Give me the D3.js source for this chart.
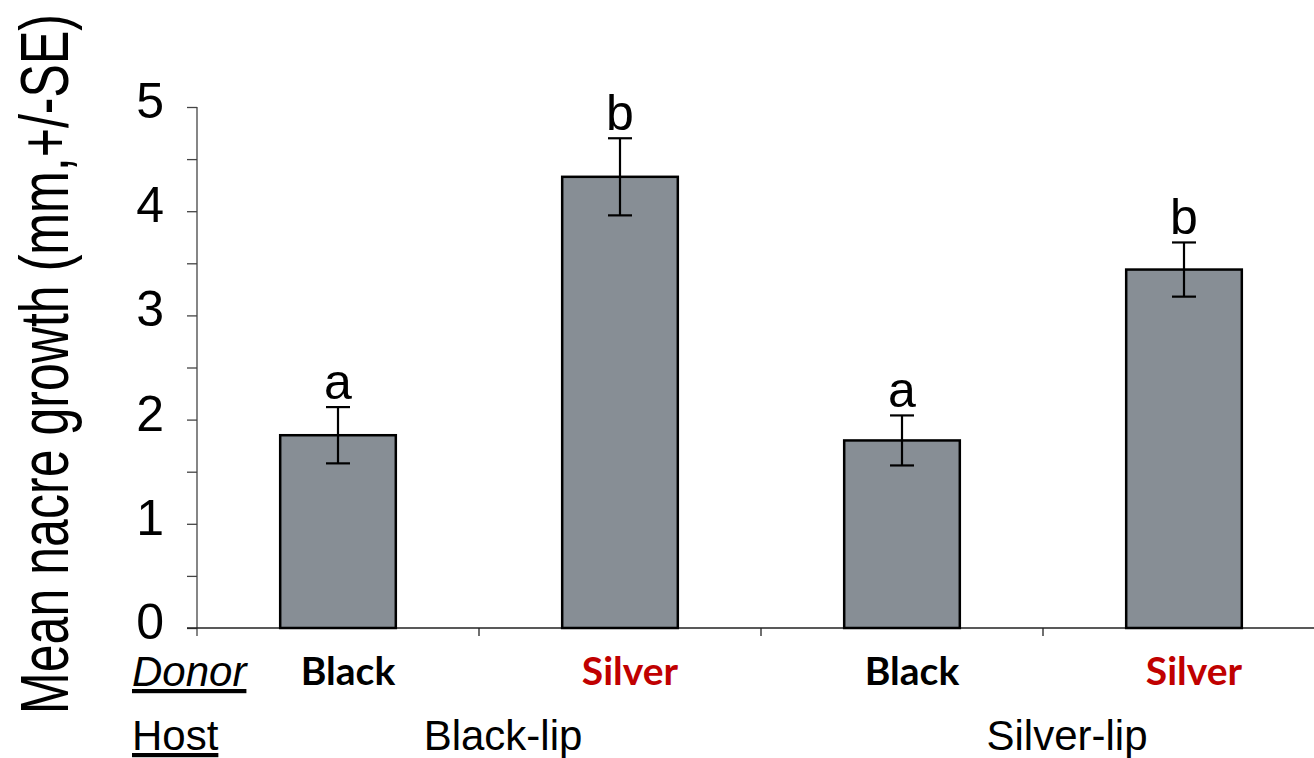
<!DOCTYPE html>
<html>
<head>
<meta charset="utf-8">
<script src="https://cdn.jsdelivr.net/npm/d3@7"></script>
<style>
  html, body { margin: 0; padding: 0; background: #fff; }
  svg { display: block; }
</style>
</head>
<body>
<svg id="chart" width="1314" height="758"></svg>
<script>
// Nacre growth by donor oyster, grouped by host oyster
const donors = ["Black", "Silver", "Black", "Silver"];
const hosts = ["Black-lip", "Silver-lip"];
const means = [1.85, 4.33, 1.80, 3.44];
const errors = [0.27, 0.37, 0.24, 0.26];
const letters = ["a", "b", "a", "b"];
const yTicks = [0, 1, 2, 3, 4, 5];

const svg = d3.select("#chart");
const W = 1314, H = 758;
const x0 = 197, x1 = 1325, yTop = 107, yBot = 628;

const x = d3.scaleBand().domain(d3.range(means.length)).range([x0, x1]).padding(0);
const y = d3.scaleLinear().domain([0, 5]).range([yBot, yTop]);
const barW = x.bandwidth() * 0.41;
const cx = i => x(i) + x.bandwidth() / 2;

const font = "'Liberation Sans', Arial, sans-serif";
const boldFont = "Lato, 'Open Sans', sans-serif";

// Y axis with major and half-step ticks
const yAxis = d3.axisLeft(y).tickValues(d3.range(0, 5.01, 0.5)).tickSize(10).tickFormat("");
const gy = svg.append("g").attr("transform", `translate(${x0},0)`).call(yAxis);
gy.select(".domain").remove();
gy.selectAll(".tick line").attr("stroke", "#444").attr("stroke-width", 1.3);
svg.append("line").attr("x1", x0).attr("x2", x0).attr("y1", yTop).attr("y2", yBot + 8)
  .attr("stroke", "#444").attr("stroke-width", 1.3);

svg.append("g").selectAll("text").data(yTicks).join("text")
  .attr("x", 164).attr("y", d => y(d) + 11)
  .attr("text-anchor", "end")
  .attr("font-family", font).attr("font-size", 50)
  .attr("fill", "#000")
  .text(d => d);

// X axis line with separators between categories
svg.append("line").attr("x1", 187).attr("x2", W).attr("y1", yBot).attr("y2", yBot)
  .attr("stroke", "#222").attr("stroke-width", 1.5);
svg.append("g").selectAll("line").data(d3.range(1, means.length)).join("line")
  .attr("x1", i => x(i)).attr("x2", i => x(i))
  .attr("y1", yBot).attr("y2", yBot + 8)
  .attr("stroke", "#222").attr("stroke-width", 1.3);

// Bars
svg.append("g").selectAll("rect").data(means).join("rect")
  .attr("x", (d, i) => cx(i) - barW / 2)
  .attr("y", d => y(d))
  .attr("width", barW)
  .attr("height", d => y(0) - y(d))
  .attr("fill", "#878e95")
  .attr("stroke", "#000")
  .attr("stroke-width", 2.5);

// Error bars (+/- SE)
const eg = svg.append("g").attr("stroke", "#000").attr("stroke-width", 2.2);
means.forEach((m, i) => {
  const c = cx(i), hi = y(m + errors[i]), lo = y(m - errors[i]);
  eg.append("line").attr("x1", c).attr("x2", c).attr("y1", hi).attr("y2", lo);
  eg.append("line").attr("x1", c - 12).attr("x2", c + 12).attr("y1", hi).attr("y2", hi);
  eg.append("line").attr("x1", c - 12).attr("x2", c + 12).attr("y1", lo).attr("y2", lo);
});

// Significance letters
svg.append("g").selectAll("text").data(letters).join("text")
  .attr("x", (d, i) => cx(i))
  .attr("y", (d, i) => y(means[i] + errors[i]) - 8)
  .attr("text-anchor", "middle")
  .attr("font-family", font).attr("font-size", 50)
  .text(d => d);

// Donor labels
svg.append("g").selectAll("text").data(donors).join("text")
  .attr("x", (d, i) => cx(i) + 10)
  .attr("y", 685)
  .attr("text-anchor", "middle")
  .attr("font-family", boldFont).attr("font-weight", 700).attr("font-size", 39)
  .attr("fill", d => d === "Silver" ? "#c00000" : "#000")
  .text(d => d);

// Host labels, centred under each pair of bars
svg.append("g").selectAll("text").data(hosts).join("text")
  .attr("x", (d, i) => (cx(2 * i) + cx(2 * i + 1)) / 2 + 24)
  .attr("y", 750)
  .attr("text-anchor", "middle")
  .attr("font-family", font).attr("font-size", 42)
  .text(d => d);

// Row headings
svg.append("text").attr("x", 132).attr("y", 686)
  .attr("font-family", font).attr("font-style", "italic").attr("font-size", 42)
  .attr("text-decoration", "underline")
  .text("Donor");
svg.append("text").attr("x", 132).attr("y", 750)
  .attr("font-family", font).attr("font-size", 42)
  .attr("text-decoration", "underline")
  .text("Host");

// Y axis title
svg.append("text")
  .attr("transform", "translate(68,364) rotate(-90)")
  .attr("text-anchor", "middle")
  .attr("font-family", font).attr("font-size", 68)
  .attr("textLength", 700).attr("lengthAdjust", "spacingAndGlyphs")
  .text("Mean nacre growth (mm,+/-SE)");
</script>
</body>
</html>
